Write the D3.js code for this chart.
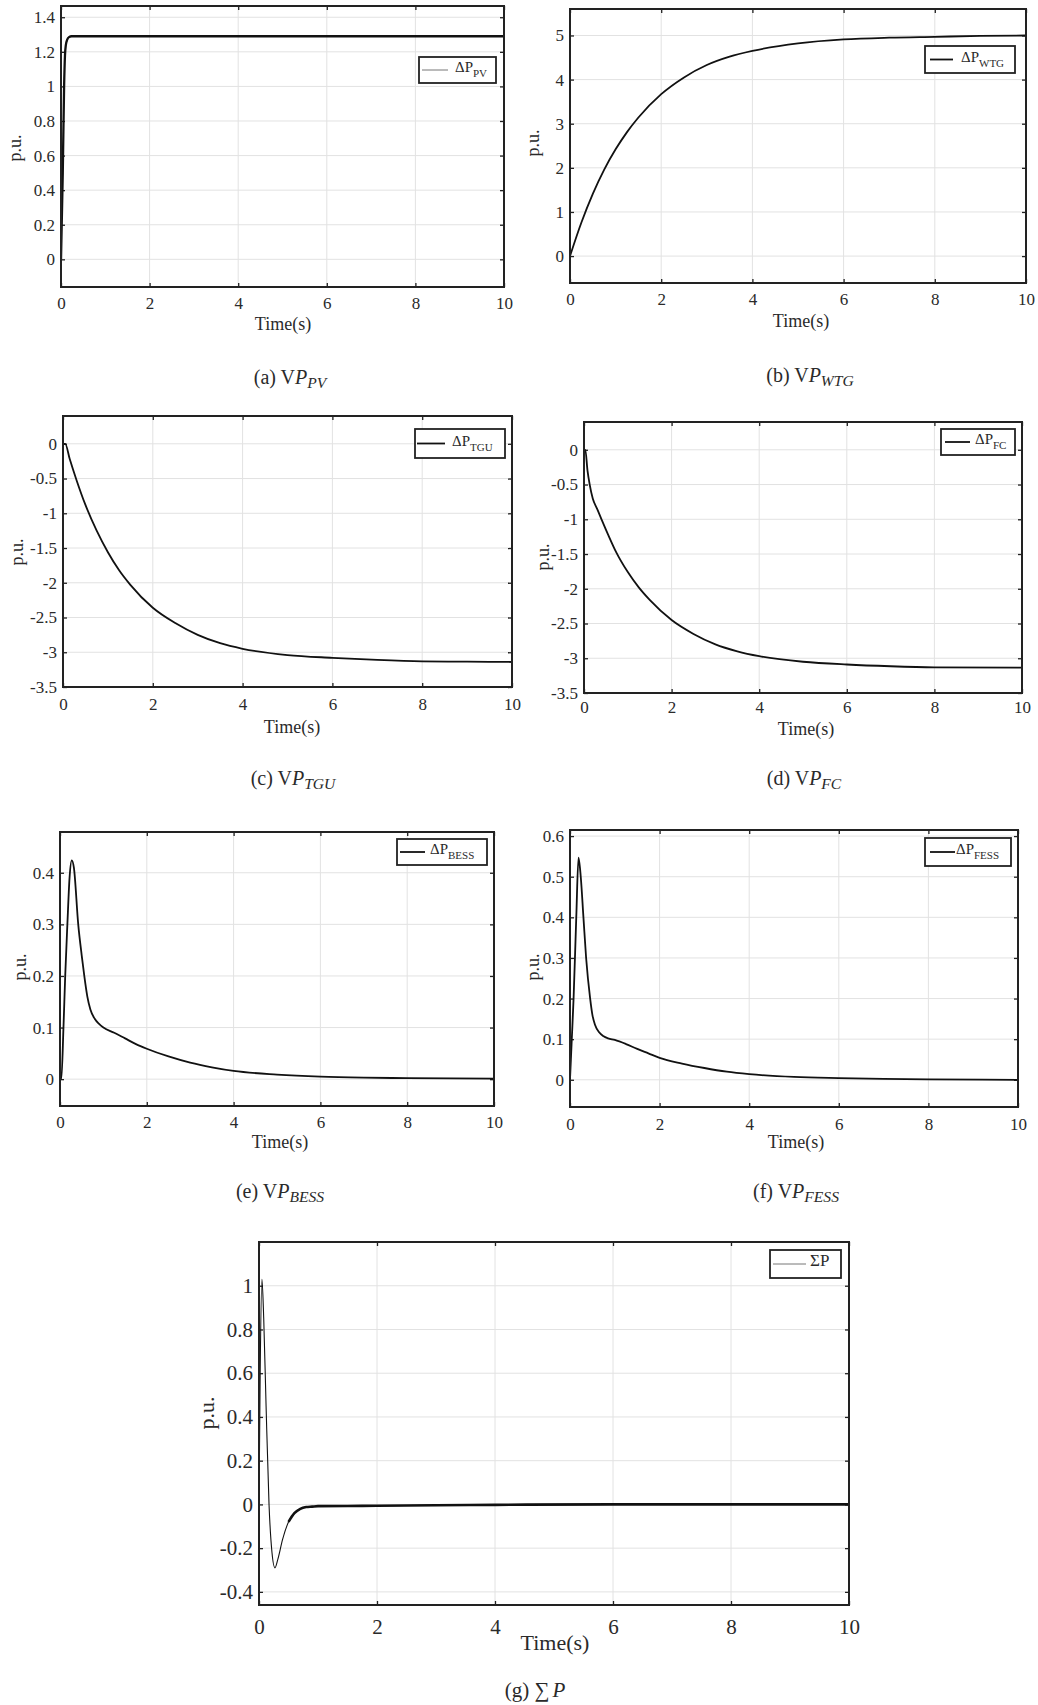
<!DOCTYPE html>
<html>
<head>
<meta charset="utf-8">
<script src="https://cdn.jsdelivr.net/npm/d3@7"></script>
<style>
  body { margin: 0; background: #fff; }
  svg { display: block; }
  text { font-family: "Liberation Serif", "Times New Roman", serif; fill: #2a2a2a; }
</style>
</head>
<body>
<svg id="fig" width="1038" height="1705"></svg>
<script>
// ---- time axis (s) ----
const timeTicks = [0, 2, 4, 6, 8, 10];

// ---- PV power deviation ----
const timePV  = [0, 0.04, 0.07, 0.09, 0.11, 0.14, 0.18, 0.24, 0.5, 1, 2, 4, 6, 8, 10];
const deltaPV = [0, 0.5, 1.0, 1.18, 1.24, 1.27, 1.285, 1.29, 1.29, 1.29, 1.29, 1.29, 1.29, 1.29, 1.29];

// ---- wind turbine generator ----
const timeWTG  = [0, 0.25, 0.5, 0.75, 1, 1.25, 1.5, 2, 2.5, 3, 3.5, 4, 5, 6, 7, 8, 9, 10];
const deltaWTG = [0, 0.76, 1.41, 1.96, 2.42, 2.81, 3.14, 3.67, 4.05, 4.33, 4.52, 4.65, 4.82, 4.91, 4.95, 4.97, 4.99, 5.0];

// ---- thermal generating unit ----
const timeTGU  = [0, 0.05, 0.15, 0.3, 0.5, 0.75, 1.0, 1.25, 1.5, 2, 2.5, 3, 3.5, 4, 5, 6, 7, 8, 9, 10];
const deltaTGU = [0, 0, -0.22, -0.52, -0.88, -1.25, -1.56, -1.82, -2.03, -2.36, -2.58, -2.75, -2.87, -2.95, -3.04, -3.08, -3.11, -3.13, -3.135, -3.14];

// ---- fuel cell ----
const timeFC  = [0, 0.03, 0.08, 0.13, 0.2, 0.3, 0.4, 0.55, 0.74, 1.0, 1.25, 1.5, 2, 2.5, 3, 3.5, 4, 5, 6, 7, 8, 10];
const deltaFC = [0, 0, -0.3, -0.5, -0.7, -0.85, -1.0, -1.22, -1.48, -1.76, -1.98, -2.16, -2.45, -2.65, -2.8, -2.9, -2.97, -3.05, -3.09, -3.115, -3.13, -3.135];

// ---- battery energy storage ----
const timeBESS  = [0, 0.03, 0.08, 0.12, 0.17, 0.22, 0.27, 0.32, 0.42, 0.5, 0.56, 0.63, 0.7, 0.8, 0.9, 1.0, 1.25, 1.5, 1.75, 2, 2.5, 3, 3.5, 4, 5, 6, 7, 8, 10];
const deltaBESS = [0, 0, 0.1, 0.2, 0.3, 0.39, 0.424, 0.41, 0.3, 0.24, 0.2, 0.16, 0.135, 0.117, 0.107, 0.1, 0.09, 0.079, 0.068, 0.059, 0.044, 0.032, 0.023, 0.016, 0.009, 0.005, 0.003, 0.002, 0.001];

// ---- flywheel energy storage ----
const timeFESS  = [0, 0.04, 0.08, 0.14, 0.19, 0.24, 0.3, 0.36, 0.45, 0.5, 0.56, 0.65, 0.75, 0.85, 1.0, 1.25, 1.5, 1.75, 2, 2.5, 3, 3.5, 4, 5, 6, 7, 8, 10];
const deltaFESS = [0, 0.1, 0.2, 0.4, 0.547, 0.5, 0.4, 0.3, 0.2, 0.16, 0.135, 0.117, 0.107, 0.102, 0.098, 0.088, 0.076, 0.065, 0.054, 0.04, 0.029, 0.02, 0.014, 0.007, 0.004, 0.002, 0.001, 0];

// ---- total power deviation ----
const timeSum  = [0, 0.02, 0.05, 0.08, 0.12, 0.17, 0.22, 0.27, 0.32, 0.4, 0.5, 0.6, 0.7, 0.8, 0.9, 1.0, 1.5, 2, 3, 4, 6, 8, 10];
const deltaSum = [0, 0.6, 1.03, 0.85, 0.45, 0.0, -0.22, -0.29, -0.25, -0.16, -0.08, -0.04, -0.02, -0.012, -0.01, -0.008, -0.007, -0.006, -0.004, -0.002, 0, 0, 0];

// ---- y tick values / labels ----
const yTicksPV  = [0, 0.2, 0.4, 0.6, 0.8, 1, 1.2, 1.4];
const yLabelsPV = ["0", "0.2", "0.4", "0.6", "0.8", "1", "1.2", "1.4"];
const yTicksWTG  = [0, 1, 2, 3, 4, 5];
const yLabelsWTG = ["0", "1", "2", "3", "4", "5"];
const yTicksNeg  = [0, -0.5, -1, -1.5, -2, -2.5, -3, -3.5];
const yLabelsNeg = ["0", "-0.5", "-1", "-1.5", "-2", "-2.5", "-3", "-3.5"];
const yTicksBESS  = [0, 0.1, 0.2, 0.3, 0.4];
const yLabelsBESS = ["0", "0.1", "0.2", "0.3", "0.4"];
const yTicksFESS  = [0, 0.1, 0.2, 0.3, 0.4, 0.5, 0.6];
const yLabelsFESS = ["0", "0.1", "0.2", "0.3", "0.4", "0.5", "0.6"];
const yTicksSum  = [-0.4, -0.2, 0, 0.2, 0.4, 0.6, 0.8, 1];
const yLabelsSum = ["-0.4", "-0.2", "0", "0.2", "0.4", "0.6", "0.8", "1"];

const svg = d3.select("#fig");

// panel layout: plot box, fonts, legend and caption placement
const panels = [
  { key: "pv", t: timePV, v: deltaPV, dom: [-0.16, 1.465], ticks: yTicksPV, labels: yLabelsPV,
    box: [61, 6, 504, 287], fs: 17, lab: 18, cap: 20, lw: 2.3,
    leg: { box: [419, 57, 496, 83], line: [422, 448], tx: 455, sub: "PV", grey: true, main: "ΔP" },
    yl: [15, 148], xl: [283, 330], xtb: 309, capPos: [290, 384], capLetter: "(a) V", capSub: "PV", capMain: "P" },
  { key: "wtg", t: timeWTG, v: deltaWTG, dom: [-0.61, 5.6], ticks: yTicksWTG, labels: yLabelsWTG,
    box: [570, 9, 1026, 283], fs: 17, lab: 18, cap: 20, lw: 1.8,
    leg: { box: [925, 46, 1015, 73], line: [930, 953], tx: 961, sub: "WTG", main: "ΔP" },
    yl: [533, 143], xl: [801, 327], xtb: 305, capPos: [810, 382], capLetter: "(b) V", capSub: "WTG", capMain: "P" },
  { key: "tgu", t: timeTGU, v: deltaTGU, dom: [-3.5, 0.4], ticks: yTicksNeg, labels: yLabelsNeg,
    box: [63, 416, 512, 687], fs: 17, lab: 18, cap: 20, lw: 1.8,
    leg: { box: [415, 429, 505, 458], line: [417, 445], tx: 452, sub: "TGU", main: "ΔP" },
    yl: [17, 552], xl: [292, 733], xtb: 710, capPos: [293, 785], capLetter: "(c) V", capSub: "TGU", capMain: "P" },
  { key: "fc", t: timeFC, v: deltaFC, dom: [-3.5, 0.4], ticks: yTicksNeg, labels: yLabelsNeg,
    box: [584, 422, 1022, 693], fs: 17, lab: 18, cap: 20, lw: 1.8,
    leg: { box: [941, 429, 1015, 455], line: [945, 970], tx: 975, sub: "FC", main: "ΔP" },
    yl: [543, 557], xl: [806, 735], xtb: 713, capPos: [804, 785], capLetter: "(d) V", capSub: "FC", capMain: "P" },
  { key: "bess", t: timeBESS, v: deltaBESS, dom: [-0.052, 0.479], ticks: yTicksBESS, labels: yLabelsBESS,
    box: [60, 832, 494, 1106], fs: 17, lab: 18, cap: 20, lw: 1.8,
    leg: { box: [397, 839, 487, 865], line: [400, 425], tx: 430, sub: "BESS", main: "ΔP" },
    yl: [20, 967], xl: [280, 1148], xtb: 1128, capPos: [280, 1198], capLetter: "(e) V", capSub: "BESS", capMain: "P" },
  { key: "fess", t: timeFESS, v: deltaFESS, dom: [-0.067, 0.615], ticks: yTicksFESS, labels: yLabelsFESS,
    box: [570, 830, 1018, 1107], fs: 17, lab: 18, cap: 20, lw: 1.8,
    leg: { box: [925, 838, 1011, 866], line: [930, 955], tx: 956, sub: "FESS", main: "ΔP" },
    yl: [533, 967], xl: [796, 1148], xtb: 1130, capPos: [796, 1198], capLetter: "(f) V", capSub: "FESS", capMain: "P" },
  { key: "sum", t: timeSum, v: deltaSum, dom: [-0.46, 1.2], ticks: yTicksSum, labels: yLabelsSum,
    box: [259, 1242, 849, 1605], fs: 21, lab: 22, cap: 21, lw: 1.1, thickFrom: 0.45,
    leg: { box: [770, 1250, 841, 1278], line: [773, 806], tx: 810, sub: "", grey: true, main: "ΣP", lfs: 17 },
    yl: [206, 1413], xl: [555, 1650], xtb: 1634, capPos: [535, 1697], capLetter: "(g) ∑", capSub: "", capMain: "P" }
];

panels.forEach(p => {
  const [x0, y0, x1, y1] = p.box;
  const x = d3.scaleLinear().domain([0, 10]).range([x0, x1]);
  const y = d3.scaleLinear().domain(p.dom).range([y1, y0]);
  const g = svg.append("g");

  // grid
  g.append("g").selectAll("line").data(timeTicks).join("line")
    .attr("x1", d => x(d)).attr("x2", d => x(d)).attr("y1", y0).attr("y2", y1)
    .attr("stroke", "#e2e2e2").attr("stroke-width", 1);
  g.append("g").selectAll("line").data(p.ticks).join("line")
    .attr("x1", x0).attr("x2", x1).attr("y1", d => y(d)).attr("y2", d => y(d))
    .attr("stroke", "#e2e2e2").attr("stroke-width", 1);

  // axes with inward ticks on all four sides
  const styleAxis = sel => {
    sel.select(".domain").remove();
    sel.selectAll(".tick line").attr("stroke", "#222").attr("stroke-width", 1.3);
    sel.selectAll(".tick text").style("font-size", p.fs + "px").attr("fill", "#2a2a2a");
  };
  const lblMap = new Map(p.ticks.map((t, i) => [t, p.labels[i]]));
  g.append("g").attr("transform", `translate(${x0},0)`)
    .call(d3.axisLeft(y).tickValues(p.ticks).tickFormat(d => lblMap.get(d))
      .tickSizeInner(-4).tickSizeOuter(0).tickPadding(6))
    .call(styleAxis).attr("font-family", null);
  g.append("g").attr("transform", `translate(${x1},0)`)
    .call(d3.axisRight(y).tickValues(p.ticks).tickFormat("").tickSizeInner(-4).tickSizeOuter(0))
    .call(styleAxis);
  const bottom = g.append("g").attr("transform", `translate(0,${y1})`)
    .call(d3.axisBottom(x).tickValues(timeTicks).tickFormat(d3.format("d"))
      .tickSizeInner(-4).tickSizeOuter(0).tickPadding(0))
    .call(styleAxis).attr("font-family", null);
  bottom.selectAll(".tick text").attr("dy", null).attr("y", p.xtb - y1);
  g.append("g").attr("transform", `translate(0,${y0})`)
    .call(d3.axisTop(x).tickValues(timeTicks).tickFormat("").tickSizeInner(-4).tickSizeOuter(0))
    .call(styleAxis);

  // series line
  const clipId = "clip-" + p.key;
  svg.append("clipPath").attr("id", clipId).append("rect")
    .attr("x", x0).attr("y", y0).attr("width", x1 - x0).attr("height", y1 - y0);
  const pts = p.t.map((t, i) => ({ t, v: p.v[i] }));
  const line = d3.line().x(d => x(d.t)).y(d => y(d.v)).curve(d3.curveMonotoneX);
  g.append("path").datum(pts).attr("clip-path", `url(#${clipId})`)
    .attr("d", line).attr("fill", "none").attr("stroke", "#111")
    .attr("stroke-width", p.lw).attr("stroke-linejoin", "round");
  if (p.thickFrom !== undefined) {
    g.append("path").datum(pts.filter(d => d.t >= p.thickFrom)).attr("clip-path", `url(#${clipId})`)
      .attr("d", line).attr("fill", "none").attr("stroke", "#111").attr("stroke-width", 2.6);
  }

  // frame
  g.append("rect").attr("x", x0).attr("y", y0).attr("width", x1 - x0).attr("height", y1 - y0)
    .attr("fill", "none").attr("stroke", "#222").attr("stroke-width", 2);

  // legend
  const L = p.leg;
  g.append("rect").attr("x", L.box[0]).attr("y", L.box[1])
    .attr("width", L.box[2] - L.box[0]).attr("height", L.box[3] - L.box[1])
    .attr("fill", "#fff").attr("stroke", "#222").attr("stroke-width", 1.8);
  const ly = (L.box[1] + L.box[3]) / 2;
  g.append("line").attr("x1", L.line[0]).attr("x2", L.line[1]).attr("y1", ly).attr("y2", ly)
    .attr("stroke", L.grey ? "#777" : "#111").attr("stroke-width", L.grey ? 1 : 1.8);
  const lt = g.append("text").attr("x", L.tx).attr("y", ly + 2)
    .style("font-size", (L.lfs || 15) + "px");
  lt.append("tspan").text(L.main);
  if (L.sub) lt.append("tspan").attr("dy", 5).style("font-size", "11px").text(L.sub);

  // axis titles
  g.append("text").attr("x", p.xl[0]).attr("y", p.xl[1]).attr("text-anchor", "middle")
    .style("font-size", p.lab + "px").text("Time(s)");
  g.append("text").attr("transform", `translate(${p.yl[0] + p.lab * 0.35},${p.yl[1]}) rotate(-90)`)
    .attr("text-anchor", "middle").style("font-size", p.lab + "px").text("p.u.");

  // caption
  const c = g.append("text").attr("x", p.capPos[0]).attr("y", p.capPos[1]).attr("text-anchor", "middle")
    .style("font-size", p.cap + "px");
  c.append("tspan").text(p.capLetter);
  c.append("tspan").style("font-style", "italic").attr("dx", p.capSub ? 0 : 3).text(p.capMain);
  if (p.capSub) c.append("tspan").style("font-style", "italic").style("font-size", (p.cap * 0.78) + "px")
    .attr("dy", 4).text(p.capSub);
});
</script>
</body>
</html>
